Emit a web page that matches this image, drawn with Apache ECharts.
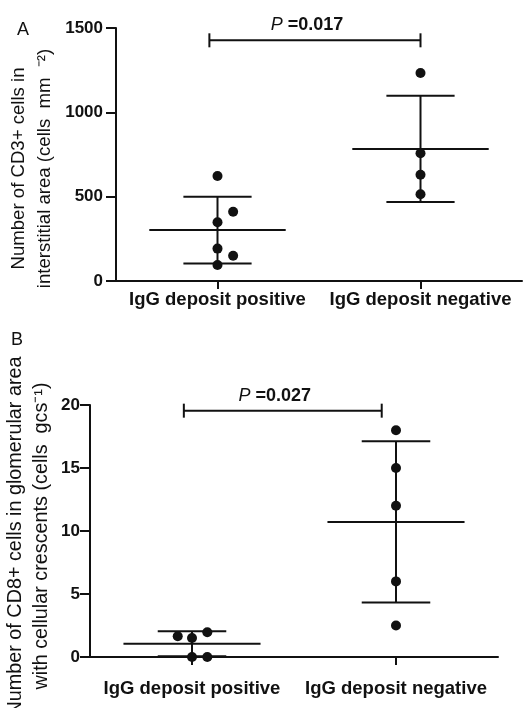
<!DOCTYPE html>
<html>
<head>
<meta charset="utf-8">
<script src="https://cdn.jsdelivr.net/npm/echarts@6/dist/echarts.min.js"></script>
<style>
html,body{margin:0;padding:0;background:#fff;}
#chart{width:525px;height:708px;}
</style>
</head>
<body>
<div id="chart"></div>
<script>
// ---------- data ----------
const categories = ['IgG deposit positive', 'IgG deposit negative'];

// Panel A: CD3+ cells in interstitial area
const posA = [622, 411, 348, 192, 150, 95];
const posAJitter = [0, 0.077, 0, 0, 0.077, 0];
const negA = [1233, 757, 630, 514];
const negAJitter = [0, 0, 0, 0];
const meanA = [302, 783];
const sdA = [198, 315];
const bracketA = [0.46, 1.50, 1427];
const pLabelA = '0.017';
const yTitleA = 'Number of CD3+ cells in\ninterstitial area (cells  mm  \u207B\u00B2)';

// Panel B: CD8+ cells in glomerular area with cellular crescents
const posB = [1.64, 1.51, 1.96, 0, 0];
const posBJitter = [-0.07, 0, 0.075, 0, 0.075];
const negB = [18, 15, 12, 6, 2.5];
const negBJitter = [0, 0, 0, 0, 0];
const meanB = [1.05, 10.72];
const sdB = [0.99, 6.4];
const bracketB = [0.46, 1.43, 19.55];
const pLabelB = '0.027';
const yTitleB = 'Number of CD8+ cells in glomerular area\nwith cellular crescents (cells  gcs\u207B\u00B9)';

// ---------- helpers ----------
const FONT = '"Liberation Sans", Arial, Helvetica, sans-serif';
const INK = '#111';

function points(vals, jit, catIdx) {
  return vals.map((v, i) => [catIdx + 0.5 + jit[i], v]);
}
function summary(means, sds) {
  return means.map((m, i) => [i + 0.5, m, sds[i]]);
}

function renderSummary(params, api) {
  const x = api.value(0), m = api.value(1), sd = api.value(2);
  const meanL = api.coord([x - 0.336, m]);
  const meanR = api.coord([x + 0.336, m]);
  const top = api.coord([x, m + sd]);
  const bot = api.coord([x, m - sd]);
  const capTL = api.coord([x - 0.168, m + sd]);
  const capTR = api.coord([x + 0.168, m + sd]);
  const capBL = api.coord([x - 0.168, m - sd]);
  const capBR = api.coord([x + 0.168, m - sd]);
  const st = { stroke: INK, lineWidth: 2 };
  return {
    type: 'group',
    children: [
      { type: 'line', shape: { x1: meanL[0], y1: meanL[1], x2: meanR[0], y2: meanR[1] }, style: st },
      { type: 'line', shape: { x1: top[0], y1: top[1], x2: bot[0], y2: bot[1] }, style: st },
      { type: 'line', shape: { x1: capTL[0], y1: capTL[1], x2: capTR[0], y2: capTR[1] }, style: st },
      { type: 'line', shape: { x1: capBL[0], y1: capBL[1], x2: capBR[0], y2: capBR[1] }, style: st }
    ]
  };
}

function makeBracketRenderer(pText) {
  return function (params, api) {
    const a = api.coord([api.value(0), api.value(2)]);
    const b = api.coord([api.value(1), api.value(2)]);
    const st = { stroke: INK, lineWidth: 2 };
    return {
      type: 'group',
      children: [
        { type: 'line', shape: { x1: a[0], y1: a[1], x2: b[0], y2: b[1] }, style: st },
        { type: 'line', shape: { x1: a[0], y1: a[1] - 7, x2: a[0], y2: a[1] + 7 }, style: st },
        { type: 'line', shape: { x1: b[0], y1: b[1] - 7, x2: b[0], y2: b[1] + 7 }, style: st },
        {
          type: 'text',
          x: (a[0] + b[0]) / 2 - 8,
          y: a[1] - 15,
          style: {
            text: '{i|P }{b|=' + pText + '}',
            align: 'center',
            verticalAlign: 'middle',
            rich: {
              i: { fontFamily: FONT, fontSize: 18, fontStyle: 'italic', fontWeight: 'normal', fill: INK },
              b: { fontFamily: FONT, fontSize: 18, fontWeight: 'bold', fill: INK }
            }
          }
        }
      ]
    };
  };
}

const axisLineStyle = { show: true, lineStyle: { color: INK, width: 2 } };

function catAxis(gridIndex, labelMargin) {
  return {
    type: 'category', gridIndex: gridIndex, data: categories, boundaryGap: true,
    axisLine: axisLineStyle,
    axisTick: { show: true, alignWithLabel: true, length: 8, lineStyle: { color: INK, width: 2 } },
    axisLabel: { interval: 0, hideOverlap: false, margin: labelMargin, fontFamily: FONT, fontSize: 18.5, fontWeight: 'bold', color: INK },
    splitLine: { show: false }
  };
}
function hiddenX(gridIndex) {
  return { type: 'value', gridIndex: gridIndex, min: 0, max: 2, show: false };
}
function valAxis(gridIndex, max, interval, title, gap, labelMargin, titleSize, titlePad) {
  return {
    type: 'value', gridIndex: gridIndex, min: 0, max: max, interval: interval,
    axisLine: axisLineStyle,
    axisTick: { show: true, length: 10, lineStyle: { color: INK, width: 2 } },
    axisLabel: { margin: labelMargin, fontFamily: FONT, fontSize: 17, fontWeight: 'bold', color: INK,
                 formatter: function (v) { return String(v); } },
    splitLine: { show: false },
    name: title, nameLocation: 'middle', nameRotate: 90, nameGap: gap, nameMoveOverlap: false,
    nameTextStyle: { fontFamily: FONT, fontSize: titleSize, fontWeight: 'normal', color: INK,
                     lineHeight: 26, align: 'center', padding: titlePad }
  };
}

const scatterStyle = { color: INK, opacity: 1 };

const option = {
  animation: false,
  backgroundColor: '#fff',
  title: [
    { text: 'A', left: 12, top: 16, textStyle: { fontFamily: FONT, fontSize: 18, fontWeight: 'normal', color: INK } },
    { text: 'B', left: 6, top: 326, textStyle: { fontFamily: FONT, fontSize: 18, fontWeight: 'normal', color: INK } }
  ],
  grid: [
    { left: 116, top: 28, width: 406, height: 253, containLabel: false, outerBoundsMode: 'none' },
    { left: 90, top: 405, width: 408, height: 252, containLabel: false, outerBoundsMode: 'none' }
  ],
  xAxis: [catAxis(0, 9), hiddenX(0), catAxis(1, 22), hiddenX(1)],
  yAxis: [
    valAxis(0, 1500, 500, yTitleA, 58, 13, 18.6, [0, 28, 0, 0]),
    valAxis(1, 20, 5, yTitleB, 35, 10, 19.8, [0, 10, 0, 0])
  ],
  series: [
    { type: 'custom', xAxisIndex: 1, yAxisIndex: 0, renderItem: renderSummary, data: summary(meanA, sdA), z: 2 },
    { type: 'custom', xAxisIndex: 1, yAxisIndex: 0, renderItem: makeBracketRenderer(pLabelA), data: [bracketA], z: 2 },
    { type: 'scatter', xAxisIndex: 1, yAxisIndex: 0, symbolSize: 10, clip: false, itemStyle: scatterStyle, data: points(posA, posAJitter, 0), z: 3 },
    { type: 'scatter', xAxisIndex: 1, yAxisIndex: 0, symbolSize: 10, clip: false, itemStyle: scatterStyle, data: points(negA, negAJitter, 1), z: 3 },

    { type: 'custom', xAxisIndex: 3, yAxisIndex: 1, renderItem: renderSummary, data: summary(meanB, sdB), z: 2 },
    { type: 'custom', xAxisIndex: 3, yAxisIndex: 1, renderItem: makeBracketRenderer(pLabelB), data: [bracketB], z: 2 },
    { type: 'scatter', xAxisIndex: 3, yAxisIndex: 1, symbolSize: 10, clip: false, itemStyle: scatterStyle, data: points(posB, posBJitter, 0), z: 3 },
    { type: 'scatter', xAxisIndex: 3, yAxisIndex: 1, symbolSize: 10, clip: false, itemStyle: scatterStyle, data: points(negB, negBJitter, 1), z: 3 }
  ]
};

const chart = echarts.init(document.getElementById('chart'), null, { renderer: 'canvas' });
chart.setOption(option);
</script>
</body>
</html>
